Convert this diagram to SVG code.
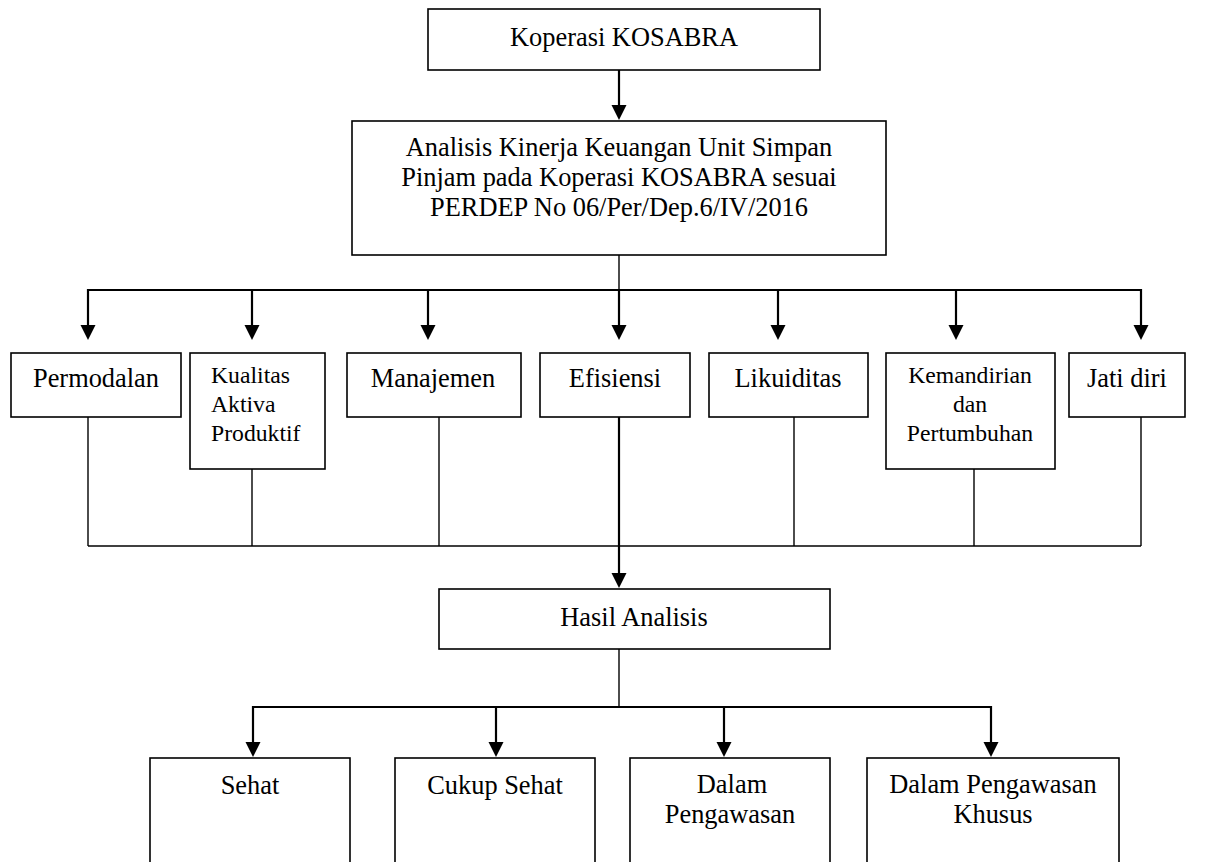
<svg xmlns="http://www.w3.org/2000/svg" width="1227" height="862" viewBox="0 0 1227 862">
<defs>
<style>
.box{fill:#fff;stroke:#000;stroke-width:1.6}
.t{font-family:"Liberation Serif","Times New Roman",serif;font-size:26.4px;fill:#000;text-anchor:middle}
.s{font-family:"Liberation Serif","Times New Roman",serif;font-size:23.7px;fill:#000}
.arr{fill:none;stroke:#000;stroke-width:2.2;marker-end:url(#ah)}
.bus{fill:none;stroke:#000;stroke-width:2.2}
.ln{fill:none;stroke:#000;stroke-width:1.4}
</style>
<marker id="ah" markerUnits="userSpaceOnUse" markerWidth="16" markerHeight="16" refX="5" refY="8" orient="auto" viewBox="0 0 16 16">
<path d="M0,0.5 L15,8 L0,15.5 z" fill="#000"/>
</marker>
</defs>

<g id="connectors">
<line class="arr" x1="619" y1="70" x2="619" y2="110"/>
<line class="ln" x1="619" y1="255" x2="619" y2="290"/>
<line class="bus" x1="88" y1="290" x2="1141" y2="290"/>
<line class="arr" x1="88" y1="289" x2="88" y2="330"/>
<line class="arr" x1="252" y1="289" x2="252" y2="330"/>
<line class="arr" x1="428" y1="289" x2="428" y2="330"/>
<line class="arr" x1="619" y1="289" x2="619" y2="330"/>
<line class="arr" x1="778" y1="289" x2="778" y2="330"/>
<line class="arr" x1="956" y1="289" x2="956" y2="330"/>
<line class="arr" x1="1141" y1="289" x2="1141" y2="330"/>
<line class="ln" x1="88" y1="417" x2="88" y2="546"/>
<line class="ln" x1="252" y1="469" x2="252" y2="546"/>
<line class="ln" x1="439" y1="417" x2="439" y2="546"/>
<line class="ln" x1="794" y1="417" x2="794" y2="546"/>
<line class="ln" x1="974" y1="469" x2="974" y2="546"/>
<line class="ln" x1="1141" y1="417" x2="1141" y2="546"/>
<line class="ln" x1="88" y1="546" x2="1141" y2="546"/>
<line class="arr" x1="619" y1="417" x2="619" y2="578"/>
<line class="ln" x1="619" y1="649" x2="619" y2="707"/>
<line class="bus" x1="253" y1="707" x2="991" y2="707"/>
<line class="arr" x1="253" y1="706" x2="253" y2="747"/>
<line class="arr" x1="496" y1="706" x2="496" y2="747"/>
<line class="arr" x1="724" y1="706" x2="724" y2="747"/>
<line class="arr" x1="991" y1="706" x2="991" y2="747"/>
</g>

<g id="n-koperasi">
<rect class="box" x="428" y="9" width="392" height="61"/>
<text class="t" x="624" y="46">Koperasi KOSABRA</text>
</g>

<g id="n-analisis">
<rect class="box" x="352" y="121" width="534" height="134"/>
<text class="t" x="619" y="156">Analisis Kinerja Keuangan Unit Simpan</text>
<text class="t" x="619" y="186">Pinjam pada Koperasi KOSABRA sesuai</text>
<text class="t" x="619" y="216">PERDEP No 06/Per/Dep.6/IV/2016</text>
</g>

<g id="n-permodalan">
<rect class="box" x="11" y="353" width="170" height="64"/>
<text class="t" x="96" y="387">Permodalan</text>
</g>

<g id="n-kualitas">
<rect class="box" x="190" y="353" width="135" height="116"/>
<text class="s" x="211" y="383">Kualitas</text>
<text class="s" x="211" y="412">Aktiva</text>
<text class="s" x="211" y="441">Produktif</text>
</g>

<g id="n-manajemen">
<rect class="box" x="347" y="353" width="174" height="64"/>
<text class="t" x="433" y="387">Manajemen</text>
</g>

<g id="n-efisiensi">
<rect class="box" x="540" y="353" width="150" height="64"/>
<text class="t" x="615" y="387">Efisiensi</text>
</g>

<g id="n-likuiditas">
<rect class="box" x="709" y="353" width="159" height="64"/>
<text class="t" x="788" y="387">Likuiditas</text>
</g>

<g id="n-kemandirian">
<rect class="box" x="886" y="353" width="169" height="116"/>
<text class="s" x="970" y="383" text-anchor="middle">Kemandirian</text>
<text class="s" x="970" y="412" text-anchor="middle">dan</text>
<text class="s" x="970" y="441" text-anchor="middle">Pertumbuhan</text>
</g>

<g id="n-jatidiri">
<rect class="box" x="1069" y="353" width="116" height="64"/>
<text class="t" x="1127" y="387">Jati diri</text>
</g>

<g id="n-hasil">
<rect class="box" x="439" y="589" width="391" height="60"/>
<text class="t" x="634" y="626">Hasil Analisis</text>
</g>

<g id="n-sehat">
<rect class="box" x="150" y="758" width="200" height="130"/>
<text class="t" x="250" y="794">Sehat</text>
</g>

<g id="n-cukup">
<rect class="box" x="395" y="758" width="200" height="130"/>
<text class="t" x="495" y="794">Cukup Sehat</text>
</g>

<g id="n-dalam">
<rect class="box" x="630" y="758" width="200" height="130"/>
<text class="t" x="732" y="793">Dalam</text>
<text class="t" x="730" y="823">Pengawasan</text>
</g>

<g id="n-khusus">
<rect class="box" x="867" y="758" width="252" height="130"/>
<text class="t" x="993" y="793">Dalam Pengawasan</text>
<text class="t" x="993" y="823">Khusus</text>
</g>
</svg>
